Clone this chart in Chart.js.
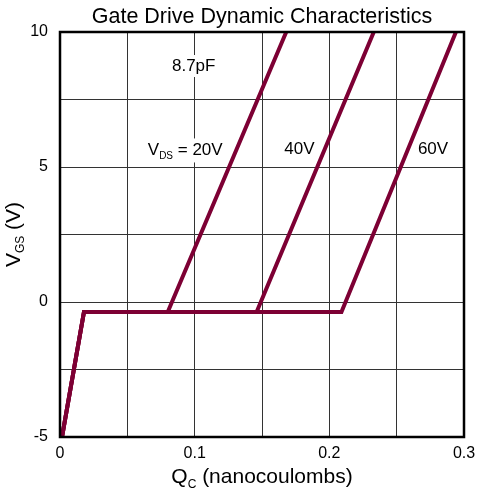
<!DOCTYPE html>
<html>
<head>
<meta charset="utf-8">
<script src="https://cdn.jsdelivr.net/npm/chart.js@4"></script>
<style>
  html, body { margin: 0; padding: 0; background: #fff; }
</style>
</head>
<body>
<canvas id="gate" width="478" height="493"></canvas>
<script>
// gate charge curves
const q20 = [0.0015, 0.0178, 0.080, 0.168];
const v20 = [-5, -0.37, -0.37, 10];
const q40 = [0.0015, 0.0178, 0.146, 0.233];
const v40 = [-5, -0.37, -0.37, 10];
const q60 = [0.0015, 0.0178, 0.209, 0.294];
const v60 = [-5, -0.37, -0.37, 10];

const xTickValues = [0, 0.1, 0.2, 0.3];
const xTickLabels = ['0', '0.1', '0.2', '0.3'];
const yTickValues = [-5, 0, 5, 10];
const yTickLabels = ['-5', '0', '5', '10'];

// curve notes (text, Q, V)
const noteText = ['8.7pF', '40V', '60V'];
const noteQ = [0.0993, 0.1778, 0.277];
const noteV = [8.74, 5.65, 5.65];

const FONT = '"Liberation Sans", Arial, sans-serif';
const LINE = '#7d0034';

function pts(qs, vs) {
    return qs.map((q, i) => ({ x: q, y: vs[i] }));
}

function pickLabel(v, values, labels) {
    for (let i = 0; i < values.length; i++) {
        if (Math.abs(v - values[i]) < 1e-6) return labels[i];
    }
    return '';
}

// draws text runs [text, size, dy] one after another, returns width
function drawParts(ctx, parts, x, y, align) {
    let w = 0;
    for (let p of parts) {
        ctx.font = p[1] + 'px ' + FONT;
        w += ctx.measureText(p[0]).width;
    }
    let cx = align === 'center' ? x - w / 2 : x;
    for (let p of parts) {
        ctx.font = p[1] + 'px ' + FONT;
        ctx.fillText(p[0], cx, y + p[2]);
        cx += ctx.measureText(p[0]).width;
    }
    return w;
}

const textPlugin = {
    id: 'texts',
    beforeDatasetsDraw(chart) {
        const { ctx, scales } = chart;
        ctx.save();
        ctx.fillStyle = '#000';
        ctx.textBaseline = 'middle';
        ctx.font = '17px ' + FONT;
        noteText.forEach((t, i) => {
            const x = scales.x.getPixelForValue(noteQ[i]);
            const y = scales.y.getPixelForValue(noteV[i]);
            const w = ctx.measureText(t).width;
            ctx.fillStyle = '#fff';
            ctx.fillRect(x - w / 2 - 2, y - 11, w + 4, 22);
            ctx.fillStyle = '#000';
            ctx.textAlign = 'center';
            ctx.fillText(t, x, y);
        });
        // V_DS = 20V with subscript
        ctx.textAlign = 'left';
        ctx.textBaseline = 'alphabetic';
        const lx = scales.x.getPixelForValue(0.0652);
        const ly = scales.y.getPixelForValue(5.65) + 6;
        const parts = [['V', 17, 0], ['DS', 10, 4], [' = 20V', 17, 0]];
        ctx.fillStyle = '#fff';
        let w = 0;
        for (let p of parts) { ctx.font = p[1] + 'px ' + FONT; w += ctx.measureText(p[0]).width; }
        ctx.fillRect(lx - 2, ly - 17, w + 4, 24);
        ctx.fillStyle = '#000';
        drawParts(ctx, parts, lx, ly, 'left');
        ctx.restore();
    },
    afterDatasetsDraw(chart) {
        const { ctx, chartArea } = chart;
        ctx.save();
        ctx.strokeStyle = '#000';
        ctx.lineWidth = 2.5;
        ctx.strokeRect(chartArea.left, chartArea.top,
            chartArea.right - chartArea.left, chartArea.bottom - chartArea.top);

        ctx.fillStyle = '#000';
        ctx.textBaseline = 'alphabetic';
        ctx.textAlign = 'left';
        const mid = (chartArea.left + chartArea.right) / 2;
        drawParts(ctx, [['Gate Drive Dynamic Characteristics', 21.5, 0]], mid, 23, 'center');
        drawParts(ctx, [['Q', 21, 0], ['C', 12, 5], [' (nanocoulombs)', 21, 0]], mid, 483, 'center');

        ctx.translate(20, (chartArea.top + chartArea.bottom) / 2);
        ctx.rotate(-Math.PI / 2);
        drawParts(ctx, [['V', 21, 0], ['GS', 12, 4], [' (V)', 21, 0]], 0, 0, 'center');
        ctx.restore();
    }
};

const ds = (qs, vs) => ({
    data: pts(qs, vs),
    showLine: true,
    borderColor: LINE,
    backgroundColor: LINE,
    borderWidth: 4,
    pointRadius: 0,
    fill: false,
    tension: 0,
    borderJoinStyle: 'miter'
});

const chart = new Chart(document.getElementById('gate').getContext('2d'), {
    type: 'scatter',
    data: {
        datasets: [ds(q60, v60), ds(q40, v40), ds(q20, v20)]
    },
    options: {
        responsive: false,
        animation: false,
        layout: { padding: { top: 32, right: 14, left: 0, bottom: 0 } },
        plugins: {
            legend: { display: false },
            tooltip: { enabled: false }
        },
        scales: {
            x: {
                type: 'linear',
                min: 0,
                max: 0.3,
                border: { display: false },
                grid: { color: '#333', lineWidth: 1, drawTicks: false },
                ticks: {
                    stepSize: 0.05,
                    autoSkip: false,
                    maxRotation: 0,
                    padding: 7,
                    color: '#000',
                    font: { size: 16, family: FONT },
                    callback: v => pickLabel(v, xTickValues, xTickLabels)
                },
                afterFit: s => { s.height = 56; s.paddingLeft = 0; s.paddingRight = 0; }
            },
            y: {
                type: 'linear',
                min: -5,
                max: 10,
                border: { display: false },
                grid: { color: '#333', lineWidth: 1, drawTicks: false },
                ticks: {
                    stepSize: 2.5,
                    autoSkip: false,
                    padding: 12,
                    color: '#000',
                    font: { size: 16, family: FONT },
                    callback: v => pickLabel(v, yTickValues, yTickLabels)
                },
                afterFit: s => { s.width = 60; s.paddingTop = 0; s.paddingBottom = 0; }
            }
        }
    },
    plugins: [textPlugin]
});
</script>
</body>
</html>
